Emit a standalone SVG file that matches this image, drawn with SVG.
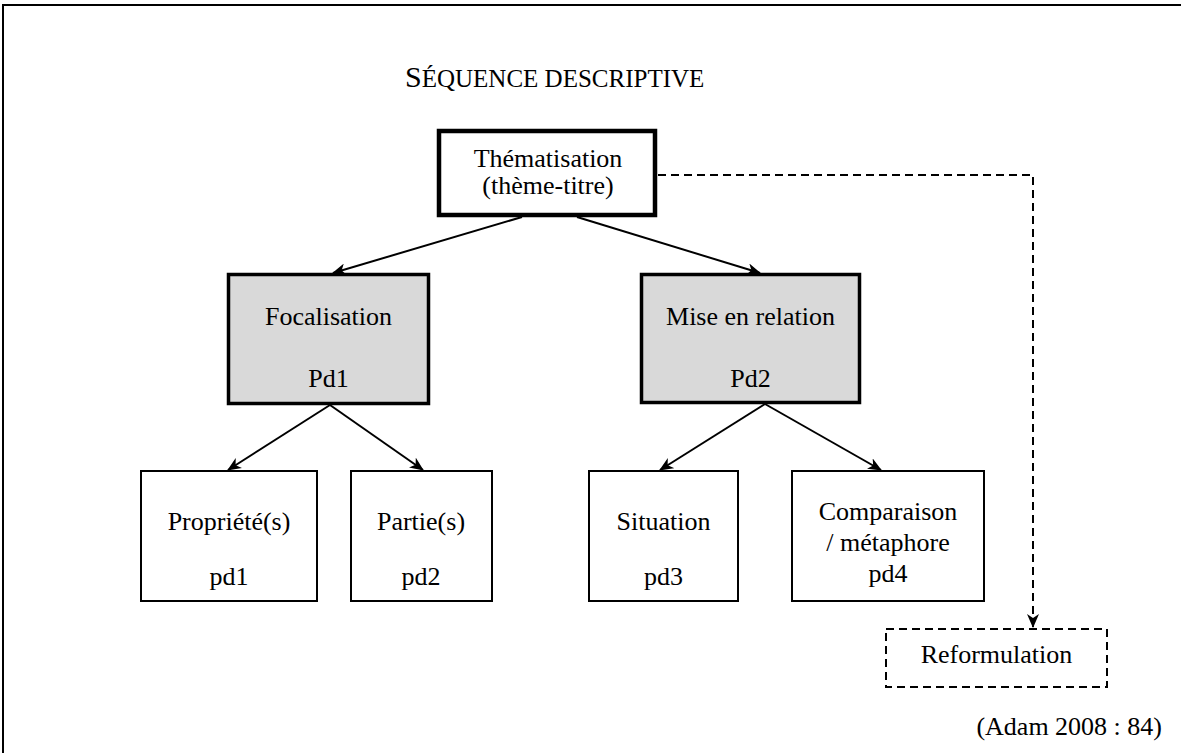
<svg xmlns="http://www.w3.org/2000/svg" width="1181" height="753" viewBox="0 0 1181 753" font-family="'Liberation Serif', 'Times New Roman', 'DejaVu Serif', serif">
<style>
text{font-family:'Liberation Serif','Times New Roman',serif;font-size:26px;fill:#000;text-anchor:middle}
.box{fill:#fff;stroke:#000;stroke-width:2}
.gray{fill:#d9d9d9;stroke:#000;stroke-width:3.5}
.thick{fill:#fff;stroke:#000;stroke-width:4.5}
.dash{fill:#fff;stroke:#000;stroke-width:2;stroke-dasharray:8 5}
.conn{fill:none;stroke:#000;stroke-width:2}
.dconn{fill:none;stroke:#000;stroke-width:2;stroke-dasharray:8 5}
</style>
<defs>
<marker id="arr" markerWidth="14" markerHeight="12" refX="13" refY="6" orient="auto" markerUnits="userSpaceOnUse">
<path d="M0,0 L14,6 L0,12 L4,6 z" fill="#000"/>
</marker>
</defs>
<rect x="0" y="0" width="1181" height="753" fill="#fff"/>
<rect x="3" y="5" width="1200" height="780" fill="none" stroke="#000" stroke-width="2"/>
<text id="title" x="405" y="87" style="text-anchor:start"><tspan style="font-size:30px">S</tspan><tspan style="font-size:25px">ÉQUENCE DESCRIPTIVE</tspan></text>
<g id="connectors">
<line class="conn" x1="522" y1="217" x2="333" y2="273" marker-end="url(#arr)"/>
<line class="conn" x1="577" y1="217" x2="760" y2="273" marker-end="url(#arr)"/>
<line class="conn" x1="330" y1="405" x2="228" y2="470" marker-end="url(#arr)"/>
<line class="conn" x1="330" y1="405" x2="423" y2="470" marker-end="url(#arr)"/>
<line class="conn" x1="765" y1="404" x2="660" y2="470" marker-end="url(#arr)"/>
<line class="conn" x1="765" y1="404" x2="881" y2="470" marker-end="url(#arr)"/>
<path class="dconn" d="M658,175 H1033 V627" marker-end="url(#arr)"/>
</g>
<g id="thematisation">
<rect class="thick" x="439" y="131" width="216" height="84"/>
<text x="548" y="167">Thématisation</text>
<text x="548" y="194">(thème-titre)</text>
</g>
<g id="focalisation">
<rect class="gray" x="228.5" y="274.5" width="200" height="129"/>
<text x="328.5" y="325">Focalisation</text>
<text x="328.5" y="387">Pd1</text>
</g>
<g id="miseenrelation">
<rect class="gray" x="641.5" y="274.5" width="218" height="128"/>
<text x="750.5" y="325">Mise en relation</text>
<text x="750.5" y="387">Pd2</text>
</g>
<g id="proprietes">
<rect class="box" x="141" y="471" width="176" height="130"/>
<text x="229" y="530">Propriété(s)</text>
<text x="229" y="585">pd1</text>
</g>
<g id="parties">
<rect class="box" x="351" y="471" width="141" height="130"/>
<text x="421" y="530">Partie(s)</text>
<text x="421" y="585">pd2</text>
</g>
<g id="situation">
<rect class="box" x="589" y="471" width="149" height="130"/>
<text x="663.5" y="530">Situation</text>
<text x="663.5" y="585">pd3</text>
</g>
<g id="comparaison">
<rect class="box" x="792" y="471" width="192" height="130"/>
<text x="888" y="520">Comparaison</text>
<text x="888" y="551">/ métaphore</text>
<text x="888" y="582">pd4</text>
</g>
<g id="reformulation">
<rect class="dash" x="886" y="629" width="221" height="58"/>
<text x="996.5" y="663">Reformulation</text>
</g>
<text id="source" x="1162" y="735" style="text-anchor:end">(Adam 2008 : 84)</text>
</svg>
